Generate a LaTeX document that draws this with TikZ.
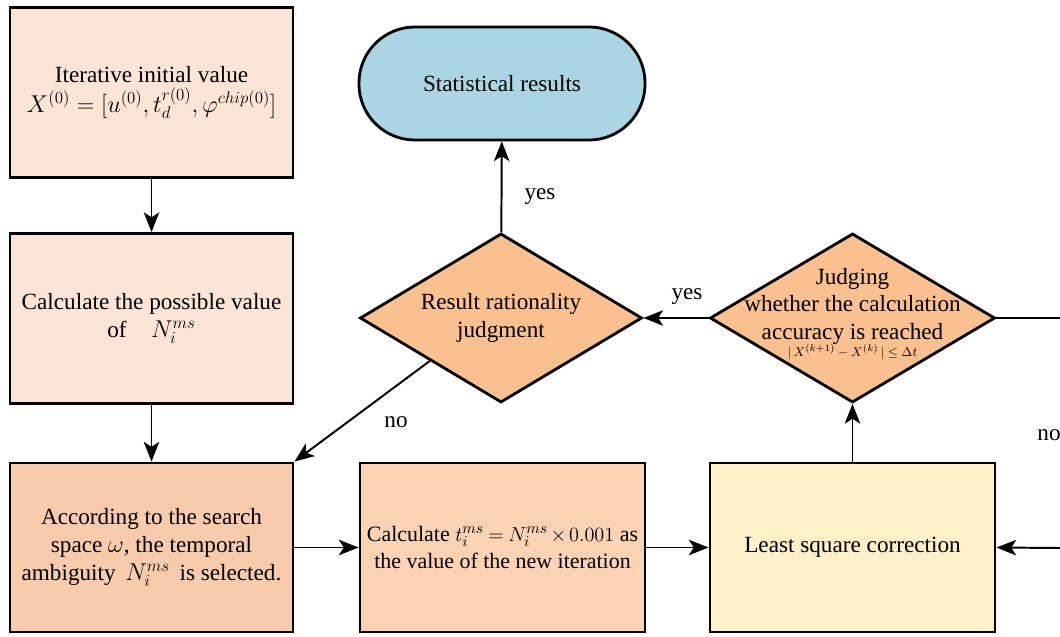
\documentclass[tikz,border=0pt]{standalone}
\usepackage{fontspec}
\setmainfont{Liberation Serif}
\usetikzlibrary{shapes.geometric,arrows.meta}
\definecolor{lightpeach}{HTML}{FCE4D6}
\definecolor{midpeach}{HTML}{F8CBAD}
\definecolor{calcpeach}{HTML}{FAD2B4}
\definecolor{judgefill}{HTML}{FAC090}
\definecolor{lsqfill}{HTML}{FFF0CA}
\definecolor{statfill}{HTML}{ACD5E4}
\tikzset{
  box/.style={draw, line width=2pt, align=center, minimum width=7.075cm, minimum height=4.25cm},
  judge/.style={diamond, draw, line width=2pt, fill=judgefill, inner sep=0pt, minimum width=7.05cm, minimum height=4.225cm},
  flow/.style={-{Stealth[length=14pt,width=11pt,inset=3.5pt]}, line width=1.4pt},
}
\begin{document}
\begin{tikzpicture}[x=0.025cm, y=-0.025cm, font=\fontsize{16.5pt}{19.6pt}\selectfont]
  \useasboundingbox (0,0) rectangle (1060,637);
  % left column
  \node[box, fill=lightpeach] (init) at (151.5,92.5) {Iterative initial value\\[2pt] $X^{(0)}=[u^{(0)},t_d^{r(0)},\varphi^{chip(0)}]$};
  \node[box, fill=lightpeach] (poss) at (151.5,318.5) {Calculate the possible value\\ of \;\; $N_i^{ms}$};
  \node[box, fill=midpeach, minimum height=4.225cm] (amb) at (151.5,547.5) {According to the search\\ space $\omega$, the temporal\\ ambiguity \,$N_i^{ms}$\, is selected.};
  % bottom row
  \node[box, fill=calcpeach, inner sep=0pt, minimum width=7.125cm, minimum height=4.225cm, font=\fontsize{15.6pt}{19.6pt}\selectfont] (calc) at (502.5,547.5)
    {Calculate $\thickmuskip=4mu \medmuskip=2.5mu t_i^{ms}=N_i^{ms}\times0.001$ as\\ the value of the new iteration};
  \node[box, fill=lsqfill, minimum width=7.125cm, minimum height=4.225cm] (lsq) at (852.5,547.5) {Least square correction};
  % decisions
  \node[judge] (rat) at (501,318) {};
  \node[align=center] (rattext) at (rat) {Result rationality\\ judgment};
  \node[judge, minimum width=7.125cm] (acc) at (852.5,318) {};
  \node[align=center] (acctext) at (852.5,314) {Judging\\ whether the calculation\\ accuracy is reached\\[-7pt] {\fontsize{9.5pt}{12pt}\selectfont $|\,X^{(k+1)}-X^{(k)}\,|\le\Delta t$}};
  \node[draw, line width=2pt, fill=statfill, rounded corners=1.4cm, minimum width=7.15cm, minimum height=2.825cm] (stat) at (502,83.5) {Statistical results};
  % loose ends on the right
  \coordinate (outr) at (1060,318);
  \coordinate (inr) at (1060,548);
  % connectors
  \draw[flow] (init) -- (poss);
  \draw[flow] (poss) -- (amb);
  \draw[flow] (amb) -- (calc);
  \draw[flow] (calc) -- (lsq);
  \draw[flow] (lsq) -- (acc);
  \draw[flow] (acc) -- (rat);
  \draw[flow] (rat) -- (stat);
  \draw[flow] (rat.south west) -- (amb.north east);
  \draw[line width=1.4pt] (acc.east) -- (outr);
  \draw[flow] (inr) -- (lsq.east);
  % labels
  \node (yesup) at (540,197) {yes};
  \node (yesleft) at (687,297) {yes};
  \node (nodown) at (396,422) {no};
  \node (noright) at (1049,435) {no};
\end{tikzpicture}
\end{document}
